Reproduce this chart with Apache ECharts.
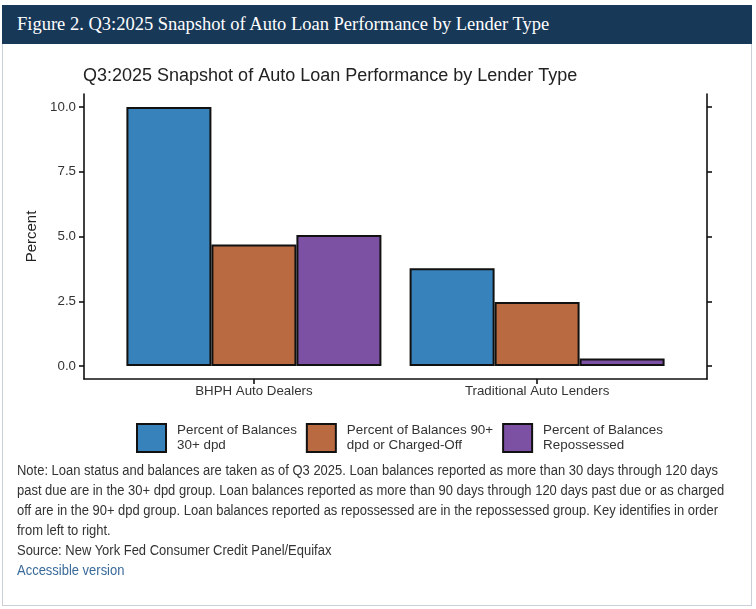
<!DOCTYPE html>
<html>
<head>
<meta charset="utf-8">
<script src="https://cdn.jsdelivr.net/npm/echarts@6/dist/echarts.min.js"></script>
<style>
  html, body { margin: 0; padding: 0; background: #fff; }
  body { width: 756px; height: 609px; position: relative; overflow: hidden; }
  #card { position: absolute; left: 2px; top: 5px; width: 748px; height: 599px; border: 1px solid #c9d0d7; }
  #head { position: absolute; left: 2px; top: 5px; width: 750px; height: 39px; background: #183858; z-index: 2;
          color: #fff; font-family: "Liberation Serif", serif; font-size: 18.5px; line-height: 39px; text-indent: 15px; white-space: nowrap; }
  #map { position: absolute; left: 0; top: 0; width: 756px; height: 609px; z-index: 1; }
  #note { position: absolute; left: 17px; top: 460px; z-index: 2; font-family: "Liberation Sans", Arial, sans-serif;
          font-size: 14px; line-height: 20px; color: #333; white-space: nowrap; transform-origin: 0 0; }
  #note a { color: #3a6a9a; text-decoration: none; }
</style>
</head>
<body>
<div id="card"></div>
<div id="head">Figure 2. Q3:2025 Snapshot of Auto Loan Performance by Lender Type</div>
<div id="map"></div>
<div id="note">
<span id="line1">Note: Loan status and balances are taken as of Q3 2025. Loan balances reported as more than 30 days through 120 days</span><br>
past due are in the 30+ dpd group. Loan balances reported as more than 90 days through 120 days past due or as charged<br>
off are in the 90+ dpd group. Loan balances reported as repossessed are in the repossessed group. Key identifies in order<br>
from left to right.<br>
Source: New York Fed Consumer Credit Panel/Equifax<br>
<a href="#">Accessible version</a>
</div>
<script>
// 数据
var lenders = ['BHPH Auto Dealers', 'Traditional Auto Lenders'];
var seriesNames = ['Percent of Balances 30+ dpd', 'Percent of Balances 90+ dpd or Charged-Off', 'Percent of Balances Repossessed'];
var legendLabels = ['Percent of Balances\n30+ dpd', 'Percent of Balances 90+\ndpd or Charged-Off', 'Percent of Balances\nRepossessed'];
var pct30 = [10.0, 3.77];
var pct90 = [4.69, 2.47];
var pctRepo = [5.06, 0.29];
var yTicks = [0, 2.5, 5, 7.5, 10];
var colors = ['#3782bb', '#b96a40', '#7c51a3'];

(function () {
    // note text is set in a condensed face in the original, squeeze it to the same width
    var note = document.getElementById('note');
    var w = document.getElementById('line1').getBoundingClientRect().width;
    note.style.transform = 'scaleX(' + (701 / w) + ')';

    var myChart = echarts.init(document.getElementById('map'));
    var font = '"Liberation Sans", Arial, sans-serif';

    var toPoints = function (vals) {
        var res = [];
        for (var i = 0; i < vals.length; i++) {
            res.push([i + 1, vals[i]]);
        }
        return res;
    };

    var allVals = [pct30, pct90, pctRepo];
    var series = [];
    for (var s = 0; s < allVals.length; s++) {
        series.push({
            name: seriesNames[s],
            type: 'bar',
            data: toPoints(allVals[s]),
            barWidth: 85,
            barGap: '0%',
            itemStyle: {
                color: colors[s],
                borderColor: '#111',
                borderWidth: 2
            }
        });
    }

    var yAxisBase = {
        type: 'value',
        min: -0.5,
        max: 10.5,
        splitLine: { show: false },
        axisLine: { show: true, onZero: false, lineStyle: { color: '#111', width: 1.6 } },
        axisTick: { show: true, customValues: yTicks, length: 5, lineStyle: { color: '#111', width: 1.6 } }
    };

    var legendMap = {};
    for (var k = 0; k < seriesNames.length; k++) legendMap[seriesNames[k]] = legendLabels[k];

    var option = {
        animation: false,
        title: {
            text: 'Q3:2025 Snapshot of Auto Loan Performance by Lender Type',
            left: 78,
            top: 62,
            textStyle: { color: '#222', fontWeight: 'normal', fontSize: 18, fontFamily: font }
        },
        grid: { left: 84, top: 94, width: 623, height: 285, outerBoundsMode: 'none' },
        legend: {
            left: 136,
            top: 423,
            padding: 0,
            itemWidth: 29,
            itemHeight: 28,
            itemGap: 9,
            icon: 'rect',
            itemStyle: { borderColor: '#111', borderWidth: 2 },
            formatter: function (n) { return legendMap[n]; },
            textStyle: { color: '#333', fontSize: 13.4, lineHeight: 15, fontFamily: font, padding: [0, 0, 0, 6] },
            data: seriesNames
        },
        xAxis: {
            type: 'value',
            min: 0.4,
            max: 2.6,
            splitLine: { show: false },
            axisLine: { show: true, onZero: false, lineStyle: { color: '#111', width: 1.6 } },
            axisTick: { show: true, customValues: [1, 2], length: 5, lineStyle: { color: '#111', width: 1.6 } },
            axisLabel: {
                customValues: [1, 2],
                margin: 6,
                color: '#333',
                fontSize: 13.3,
                fontFamily: font,
                formatter: function (v) { return lenders[Math.round(v) - 1]; }
            }
        },
        yAxis: [
            echarts.util.merge({
                position: 'left',
                name: 'Percent',
                nameLocation: 'middle',
                nameRotate: 90,
                nameGap: 41,
                nameTextStyle: { color: '#222', fontSize: 15, fontFamily: font },
                axisLabel: {
                    customValues: yTicks,
                    margin: 8,
                    color: '#333',
                    fontSize: 13.3,
                    fontFamily: font,
                    formatter: function (v) { return v.toFixed(1); }
                }
            }, yAxisBase, true),
            echarts.util.merge({
                position: 'right',
                axisLabel: { show: false }
            }, yAxisBase, true)
        ],
        series: series
    };

    myChart.setOption(option);
    window.addEventListener('resize', function () {
        myChart.resize();
    });
})();
</script>
</body>
</html>
